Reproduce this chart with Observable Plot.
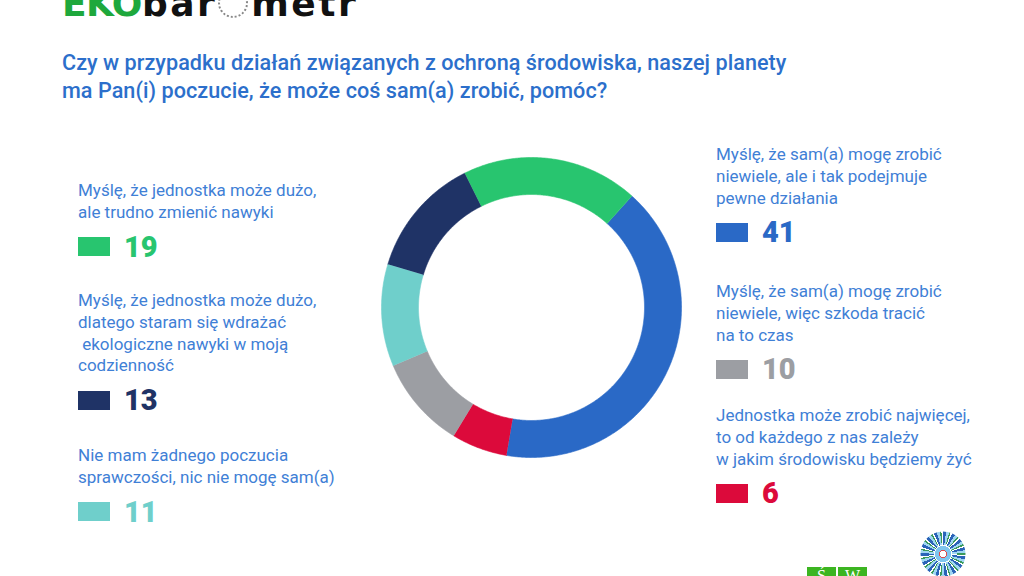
<!DOCTYPE html>
<html>
<head>
<meta charset="utf-8">
<script src="https://cdn.jsdelivr.net/npm/d3@7"></script>
<script src="https://cdn.jsdelivr.net/npm/@observablehq/plot@0.6"></script>
<style>
  html, body { margin: 0; padding: 0; background: #ffffff; }
  #page { position: relative; width: 1024px; height: 576px; overflow: hidden; background: #fff; font-family: Roboto, "Open Sans", sans-serif; }
  #logo { position: absolute; left: 62px; top: -15px; font-family: "DejaVu Sans", sans-serif; font-weight: 900; font-size: 36px; line-height: 38px; white-space: nowrap; }
  #logo .eko { color: #1ea83c; letter-spacing: -0.5px; }
  #logo .bar { color: #111; letter-spacing: 2.5px; }
  #logo .gauge { display: inline-block; width: 30px; height: 30px; border: 2px dotted #888; border-radius: 50%; vertical-align: -2px; margin: 0 3px 0 1px; box-sizing: border-box; }
  #title { position: absolute; left: 62px; top: 49px; color: #2c6fcb; font-size: 21.6px; font-weight: 500; line-height: 28px; letter-spacing: 0.05px; }
  .group { position: absolute; width: 300px; }
  .label { color: #3f80d6; font-size: 17px; line-height: 21.8px; white-space: pre-wrap; font-weight: 400; }
  .row { display: flex; align-items: center; margin-top: 12px; height: 22px; }
  .sq { width: 32px; height: 19px; margin-right: 14px; }
  .num { font-size: 29px; font-weight: 900; line-height: 22px; }
  #chart { position: absolute; left: 371px; top: 147px; }
  #sw { position: absolute; left: 807px; top: 567px; display: flex; gap: 2px; }
  #sw div { width: 29px; height: 20px; background: #3cb521; color: #fff; font-family: "Liberation Serif", serif; font-size: 16px; text-align: center; line-height: 18px; }
  #flower { position: absolute; left: 920px; top: 531px; width: 46px; height: 46px; border-radius: 50%;
    background: radial-gradient(circle, #ffffff 0 3px, #e04a4a 3px 4px, #7fc6ee 4px 8px, #ffffff 8px 9px, transparent 9px),
      repeating-conic-gradient(#2a63b8 0 8deg, #9fd6f2 8deg 16deg, #3a9a5a 16deg 20deg, #ffffff 20deg 24deg);
    -webkit-mask: radial-gradient(circle, #000 0 22px, transparent 23px); mask: radial-gradient(circle, #000 0 22px, transparent 23px); }
</style>
</head>
<body>
<div id="page">
  <div id="logo"><span class="eko">EKO</span><span class="bar">bar</span><span class="gauge"></span><span class="bar">metr</span></div>
  <div id="title">Czy w przypadku działań związanych z ochroną środowiska, naszej planety<br>ma Pan(i) poczucie, że może coś sam(a) zrobić, pomóc?</div>
  <div id="chart"></div>
  <div id="sw"><div>Ś</div><div>W</div></div>
  <div id="flower"></div>
</div>
<script>
// ---- Data (clockwise order in the ring) ----
const categories = [
  "Myślę, że sam(a) mogę zrobić\nniewiele, ale i tak podejmuje\npewne działania",
  "Jednostka może zrobić najwięcej,\nto od każdego z nas zależy\nw jakim środowisku będziemy żyć",
  "Myślę, że sam(a) mogę zrobić\nniewiele, więc szkoda tracić\nna to czas",
  "Nie mam żadnego poczucia\nsprawczości, nic nie mogę sam(a)",
  "Myślę, że jednostka może dużo,\ndlatego staram się wdrażać\n ekologiczne nawyki w moją\ncodzienność",
  "Myślę, że jednostka może dużo,\nale trudno zmienić nawyki"
];
const values = [41, 6, 10, 11, 13, 19];
const colors = ["#2a69c6", "#dc0a3b", "#9c9ea3", "#6fcfcb", "#1f3366", "#28c56f"];

// legend placement: which column and top offset for each category
const legendSide = ["right", "right", "right", "left", "left", "left"];
const legendTop = [144, 405, 281, 445, 290, 180];

// ---- Donut drawn with Plot ----
const data = categories.map((c, i) => ({key: c, value: values[i]}));
const R_OUT = 150, R_IN = 113;
const arcs = d3.pie().sort(null).value(d => d.value).startAngle(42 * Math.PI / 180).endAngle((42 + 360) * Math.PI / 180)(data);
const pts = [];
for (const a of arcs) {
  const n = Math.max(2, Math.ceil((a.endAngle - a.startAngle) / (Math.PI / 360)));
  for (let k = 0; k <= n; k++) {
    const t = a.startAngle + (a.endAngle - a.startAngle) * k / n;
    pts.push({key: a.data.key, x: R_OUT * Math.sin(t), y: R_OUT * Math.cos(t)});
  }
  for (let k = n; k >= 0; k--) {
    const t = a.startAngle + (a.endAngle - a.startAngle) * k / n;
    pts.push({key: a.data.key, x: R_IN * Math.sin(t), y: R_IN * Math.cos(t)});
  }
}
const chart = Plot.plot({
  width: 320, height: 320, margin: 0,
  x: {domain: [-160, 160], axis: null},
  y: {domain: [-160, 160], axis: null},
  color: {domain: categories, range: colors},
  marks: [
    Plot.line(pts, {x: "x", y: "y", z: "key", fill: "key", stroke: "key", strokeWidth: 0.6, curve: "linear"})
  ]
});
document.getElementById("chart").appendChild(chart);

// ---- Legend / labels ----
const page = document.getElementById("page");
categories.forEach((c, i) => {
  const g = document.createElement("div");
  g.className = "group";
  g.style.left = (legendSide[i] === "left" ? 78 : 716) + "px";
  g.style.top = legendTop[i] + "px";
  const lab = document.createElement("div");
  lab.className = "label";
  lab.textContent = c;
  const row = document.createElement("div");
  row.className = "row";
  const sq = document.createElement("div");
  sq.className = "sq";
  sq.style.background = colors[i];
  const num = document.createElement("div");
  num.className = "num";
  num.style.color = colors[i];
  num.textContent = values[i];
  row.appendChild(sq); row.appendChild(num);
  g.appendChild(lab); g.appendChild(row);
  page.appendChild(g);
});
</script>
</body>
</html>
